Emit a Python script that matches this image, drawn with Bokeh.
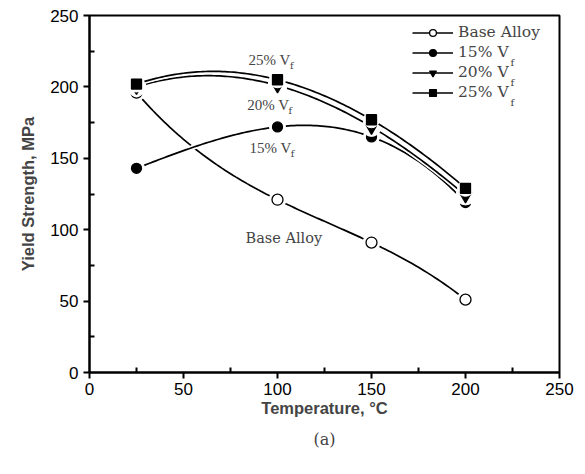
import numpy as np
from bokeh.plotting import figure
from bokeh.models import Range1d, Legend, LegendItem, Label, Title, FixedTicker
from bokeh.embed import file_html
from bokeh.resources import INLINE

temps = [25, 100, 150, 200]
base_alloy = [196, 121, 91, 51]
vf15 = [143, 172, 165, 119]
vf20 = [200, 201, 172, 124]
vf25 = [202, 205, 177, 129]

x_ticks = [0, 50, 100, 150, 200, 250]
y_ticks = [0, 50, 100, 150, 200, 250]
minor = [25, 75, 125, 175, 225]

SERIF = "DejaVu Serif"
SERIF2 = "Liberation Serif"
SANS = "Liberation Sans"

p = figure(width=577, height=466, output_backend="svg", toolbar_location=None,
           x_range=Range1d(0, 250), y_range=Range1d(0, 250),
           min_border_left=89, min_border_right=18, min_border_top=15, min_border_bottom=94)
p.grid.visible = False
p.outline_line_color = "black"
p.outline_line_width = 2
p.background_fill_color = "white"
p.border_fill_color = "white"

for ax in (p.xaxis[0], p.yaxis[0]):
    ax.axis_line_width = 2
    ax.major_tick_line_width = 2
    ax.minor_tick_line_width = 2
    ax.major_tick_out = 6
    ax.major_tick_in = 0
    ax.minor_tick_out = 0
    ax.minor_tick_in = 5
    ax.major_label_text_font = SANS
    ax.major_label_text_font_size = "17px"
    ax.major_label_text_color = "black"
    ax.axis_label_text_font = SANS
    ax.axis_label_text_font_style = "bold"
    ax.axis_label_text_font_size = "16.5px"

p.xaxis.ticker = FixedTicker(ticks=x_ticks, minor_ticks=minor)
p.yaxis.ticker = FixedTicker(ticks=y_ticks, minor_ticks=minor)
p.xaxis.axis_label = "Temperature, \u00b0C"
p.yaxis.axis_label = "Yield Strength, MPa"
p.xaxis.major_label_standoff = 4
p.xaxis.axis_label_standoff = 1
p.yaxis.axis_label_standoff = 10

p.add_layout(Title(text="(a)", align="center", text_font=SERIF, text_font_size="16px",
                   text_font_style="normal", standoff=17), "below")

def smooth(xs, ys):
    c = np.polyfit(xs, ys, 3)
    xx = np.linspace(xs[0], xs[-1], 120)
    return xx, np.polyval(c, xx)

series = [
    ("Base Alloy", base_alloy, "circle", 11, "white"),
    ("15% V", vf15, "circle", 10, "black"),
    ("20% V", vf20, "inverted_triangle", 13, "black"),
    ("25% V", vf25, "square", 10, "black"),
]

items = []
for name, ys, marker, size, fill in series:
    xx, yy = smooth(temps, ys)
    p.line(xx, yy, line_color="white", line_width=5)
    ln = p.line(xx, yy, line_color="black", line_width=1.7)
    p.scatter(temps, ys, marker="circle", size=size + 6, fill_color="white", line_color="white")
    sc = p.scatter(temps, ys, marker=marker, size=size, fill_color=fill, line_color="black", line_width=1.3)
    items.append(LegendItem(label=name, renderers=[ln, sc]))

legend = Legend(items=items, location="top_right", border_line_alpha=0, background_fill_alpha=0,
                glyph_width=41, glyph_height=17, label_standoff=5, spacing=2, padding=4, margin=4,
                label_text_font=SERIF, label_text_font_size="15.5px", label_height=17, label_width=93)
p.add_layout(legend)

def sub(x, y, size="10px"):
    p.add_layout(Label(x=x, y=y, text="f", text_font=SERIF, text_font_size=size,
                       text_baseline="top"))

# in-plot annotations (baseline positions)
ann = [("25% V", 84.6, 218.5), ("20% V", 83.9, 187.0), ("15% V", 85.1, 156.9)]
for txt, x, y in ann:
    p.add_layout(Label(x=x, y=y, text=txt, text_font=SERIF2, text_font_size="15px",
                       text_baseline="alphabetic"))
    sub(x + 22.0, y, "9.5px")
p.add_layout(Label(x=83.0, y=94.5, text="Base Alloy", text_font=SERIF, text_font_size="14.5px",
                   text_baseline="alphabetic"))

# legend subscripts
for yv in [220.6, 206.8, 192.8]:
    sub(224.0, yv)

open("out.html", "w").write(file_html(p, INLINE))
